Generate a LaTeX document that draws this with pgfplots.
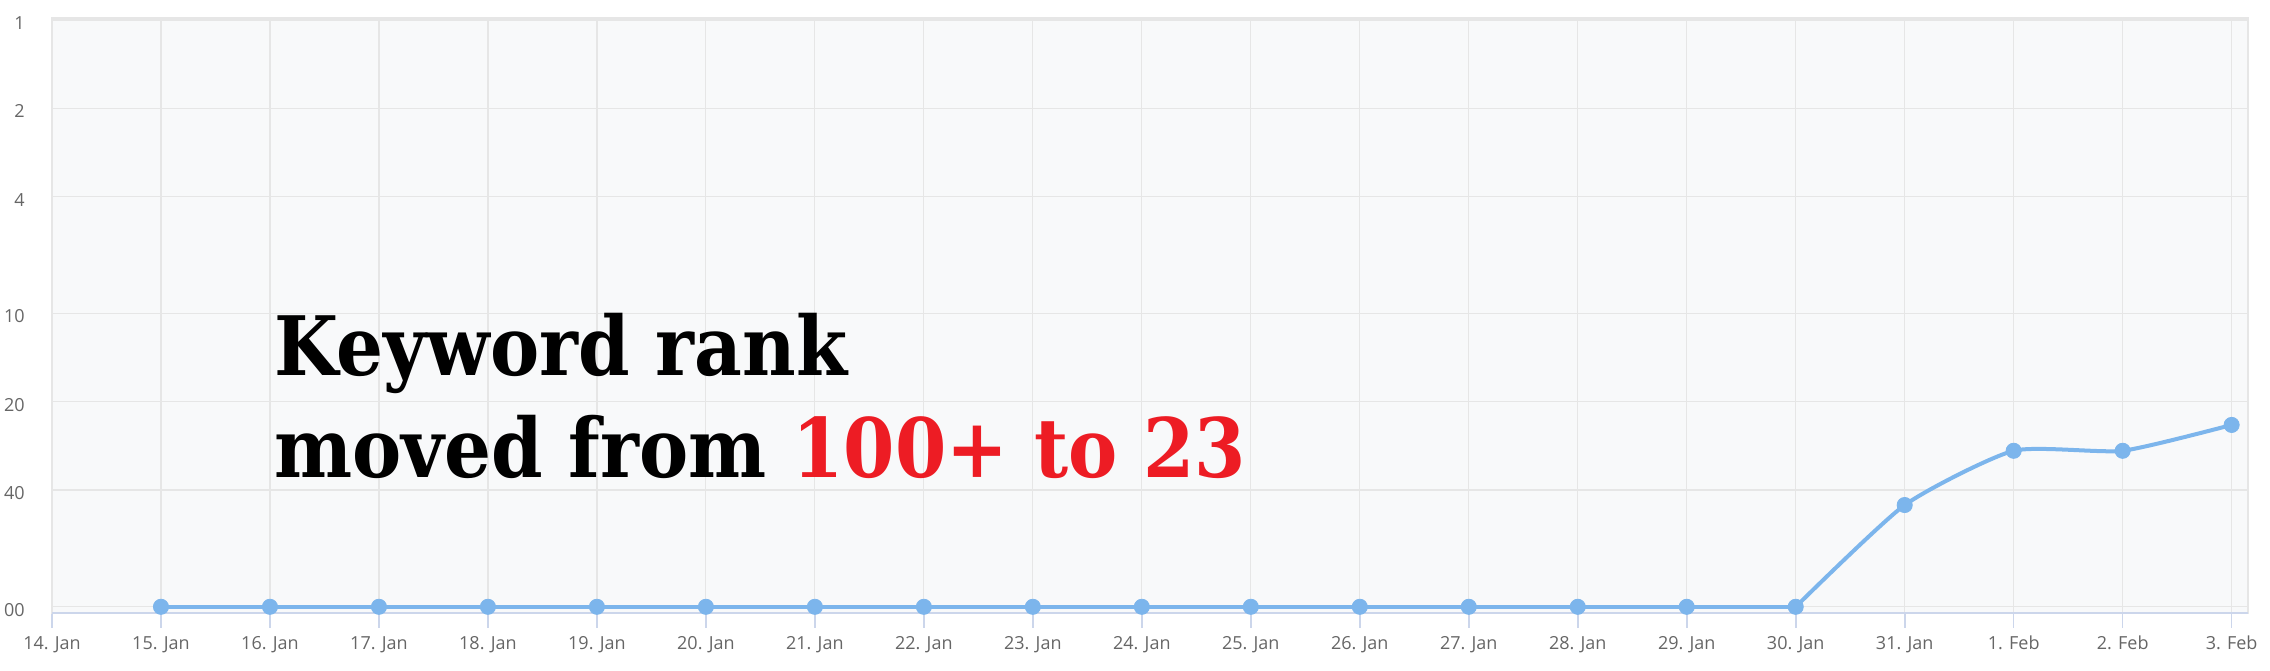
\documentclass[border=0pt]{standalone}
\usepackage{graphicx}
\usepackage{pgfplots}
\pgfplotsset{compat=1.18}
\usepackage{fontspec}
\setmainfont{Open Sans}
\newfontfamily\titlefont{DejaVu Serif}
\definecolor{bgc}{HTML}{F8F9FA}
\definecolor{gridc}{HTML}{E6E6E6}
\definecolor{axisc}{HTML}{CCD6EB}
\definecolor{seriesc}{HTML}{7CB5EC}
\definecolor{lblc}{HTML}{666666}
\definecolor{kwred}{HTML}{ED1C24}
\begin{document}
\begin{tikzpicture}
\begin{axis}[
  scale only axis,
  width=1098pt, height=297.5pt,
  xmin=14, xmax=34.15,
  ymode=log, ymin=0.985, ymax=105, y dir=reverse,
  xtick={14,15,16,17,18,19,20,21,22,23,24,25,26,27,28,29,30,31,32,33,34},
  xticklabels={14. Jan,15. Jan,16. Jan,17. Jan,18. Jan,19. Jan,20. Jan,21. Jan,22. Jan,23. Jan,24. Jan,25. Jan,26. Jan,27. Jan,28. Jan,29. Jan,30. Jan,31. Jan,1. Feb,2. Feb,3. Feb},
  ytick={1,2,4,10,20,40,100},
  yticklabels={1,2,4,10,20,40,100},
  minor ytick={},
  grid=major,
  major grid style={draw=gridc, line width=0.6pt},
  axis background/.style={fill=bgc},
  axis line style={draw=gridc, line width=0.6pt},
  tick pos=left,
  xtick align=outside,
  major tick length=7.5pt,
  xtick style={draw=axisc, line width=0.8pt},
  ytick style={draw=none},
  tick label style={font=\fontsize{9}{10}\selectfont, text=lblc},
  xticklabel style={anchor=north, inner sep=0pt, yshift=-4pt},
  yticklabel style={anchor=east, inner sep=0pt, xshift=-13.5pt, yshift=-1.5pt},
  clip=false,
]
\draw[axisc, line width=1pt] (rel axis cs:0,0) -- (rel axis cs:1,0);
% flat part
\addplot[color=seriesc, line width=2pt, sharp plot, no marks]
coordinates {
(15,100) (16,100) (17,100) (18,100) (19,100) (20,100) (21,100) (22,100)
(23,100) (24,100) (25,100) (26,100) (27,100) (28,100) (29,100) (30,100)
};
% rising part
\addplot[color=seriesc, line width=2pt, smooth, tension=0.35, no marks]
coordinates {
(30,100) (31,45) (32,29.4) (33,29.4) (34,24)
};
% markers
\addplot[only marks, mark=*, mark size=3.8pt, mark options={fill=seriesc, draw=seriesc}]
coordinates {
(15,100) (16,100) (17,100) (18,100) (19,100) (20,100) (21,100) (22,100)
(23,100) (24,100) (25,100) (26,100) (27,100) (28,100) (29,100) (30,100)
(31,45) (32,29.4) (33,29.4) (34,24)
};
\end{axis}
\node[anchor=base west, inner sep=0pt, font=\titlefont\bfseries\fontsize{41}{41}\selectfont] at (111pt,119pt) {\scalebox{0.9}[1]{Keyword rank}};
\node[anchor=base west, inner sep=0pt, font=\titlefont\bfseries\fontsize{41}{41}\selectfont] at (111pt,68pt) {\scalebox{0.9}[1]{moved from \textcolor{kwred}{100+ to 23}}};
\pgfresetboundingbox
\useasboundingbox (-26pt,-28.5pt) rectangle (1109pt,306.5pt);
\end{tikzpicture}
\end{document}
